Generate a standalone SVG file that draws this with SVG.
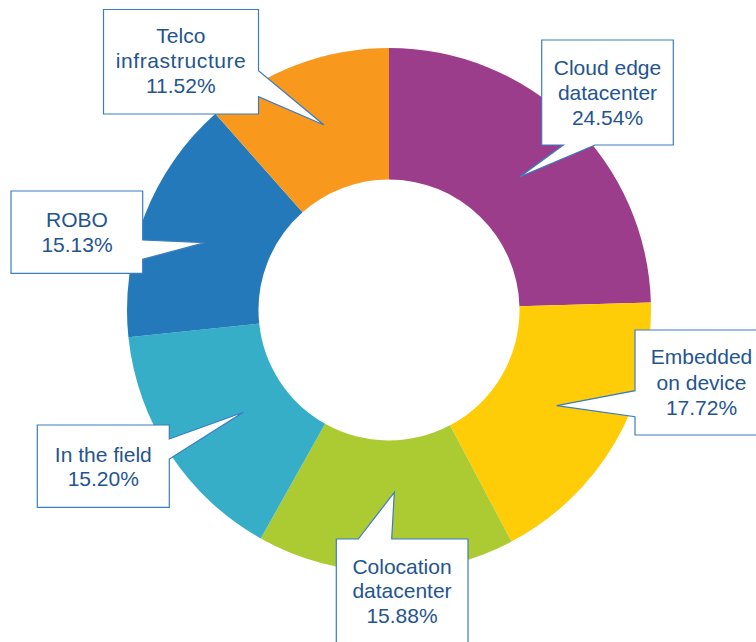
<svg xmlns="http://www.w3.org/2000/svg" width="756" height="642" viewBox="0 0 756 642">
<style>
.lbl{font-family:"Liberation Sans",Arial,sans-serif;font-size:21px;fill:#245490;text-anchor:middle}
.co{fill:#ffffff;stroke:#3a7dc0;stroke-width:1.2;stroke-linejoin:miter}
</style>
<rect width="756" height="642" fill="#ffffff"/>
<g id="donut">
<path id="seg-cloud" fill="#9c3d8c" d="M389 48 A262 262 0 0 1 650.89 302.43 L519.45 306.23 A130.5 130.5 0 0 0 389 179.5 Z"/>
<path id="seg-embedded" fill="#ffcc08" d="M650.89 302.43 A262 262 0 0 1 511.46 541.62 L450 425.37 A130.5 130.5 0 0 0 519.45 306.23 Z"/>
<path id="seg-colocation" fill="#accb33" d="M511.46 541.62 A262 262 0 0 1 260.77 538.48 L325.13 423.8 A130.5 130.5 0 0 0 450 425.37 Z"/>
<path id="seg-field" fill="#37aec7" d="M260.77 538.48 A262 262 0 0 1 128.42 337.28 L259.21 323.59 A130.5 130.5 0 0 0 325.13 423.8 Z"/>
<path id="seg-robo" fill="#2479bb" d="M128.42 337.28 A262 262 0 0 1 215.36 113.8 L302.51 212.27 A130.5 130.5 0 0 0 259.21 323.59 Z"/>
<path id="seg-telco" fill="#f8991e" d="M215.36 113.8 A262 262 0 0 1 389 48 L389 179.5 A130.5 130.5 0 0 0 302.51 212.27 Z"/>
</g>
<g id="node-telco">
<path class="co" d="M103.5 9.5 H258.5 V70.7 L324 125 L258.5 96.7 V114 H103.5 Z"/>
<text class="lbl" x="180.8" y="43">Telco</text>
<text class="lbl" x="180.8" y="68" textLength="130" lengthAdjust="spacing">infrastructure</text>
<text class="lbl" x="180.8" y="92.7">11.52%</text>
</g>
<g id="node-cloud">
<path class="co" d="M541.7 40 H673.3 V145 H595 L520 176.7 L563.3 145 H541.7 Z"/>
<text class="lbl" x="607.5" y="75">Cloud edge</text>
<text class="lbl" x="607.5" y="100">datacenter</text>
<text class="lbl" x="607.5" y="125">24.54%</text>
</g>
<g id="node-robo">
<path class="co" d="M11 191 H142.7 V240 L205 242.7 L142.7 259.3 V273.3 H11 Z"/>
<text class="lbl" x="77" y="226.7">ROBO</text>
<text class="lbl" x="77" y="252.3">15.13%</text>
</g>
<g id="node-embedded">
<path class="co" d="M635 330 H770 V435 H635 V416.7 L556.7 405.7 L635 390.7 Z"/>
<text class="lbl" x="701.5" y="364.3">Embedded</text>
<text class="lbl" x="701.5" y="390">on device</text>
<text class="lbl" x="701.5" y="415">17.72%</text>
</g>
<g id="node-field">
<path class="co" d="M37.3 425 H169.3 V439 L243.3 412.3 L169.3 459 V507.3 H37.3 Z"/>
<text class="lbl" x="103.3" y="461.7">In the field</text>
<text class="lbl" x="103.3" y="486">15.20%</text>
</g>
<g id="node-colocation">
<path class="co" d="M336.3 539 H358.3 L394.3 492.3 L391.7 539 H468 V660 H336.3 Z"/>
<text class="lbl" x="402" y="574.3">Colocation</text>
<text class="lbl" x="402" y="598.3">datacenter</text>
<text class="lbl" x="402" y="623.3">15.88%</text>
</g>
<g id="connectors"></g>
</svg>
